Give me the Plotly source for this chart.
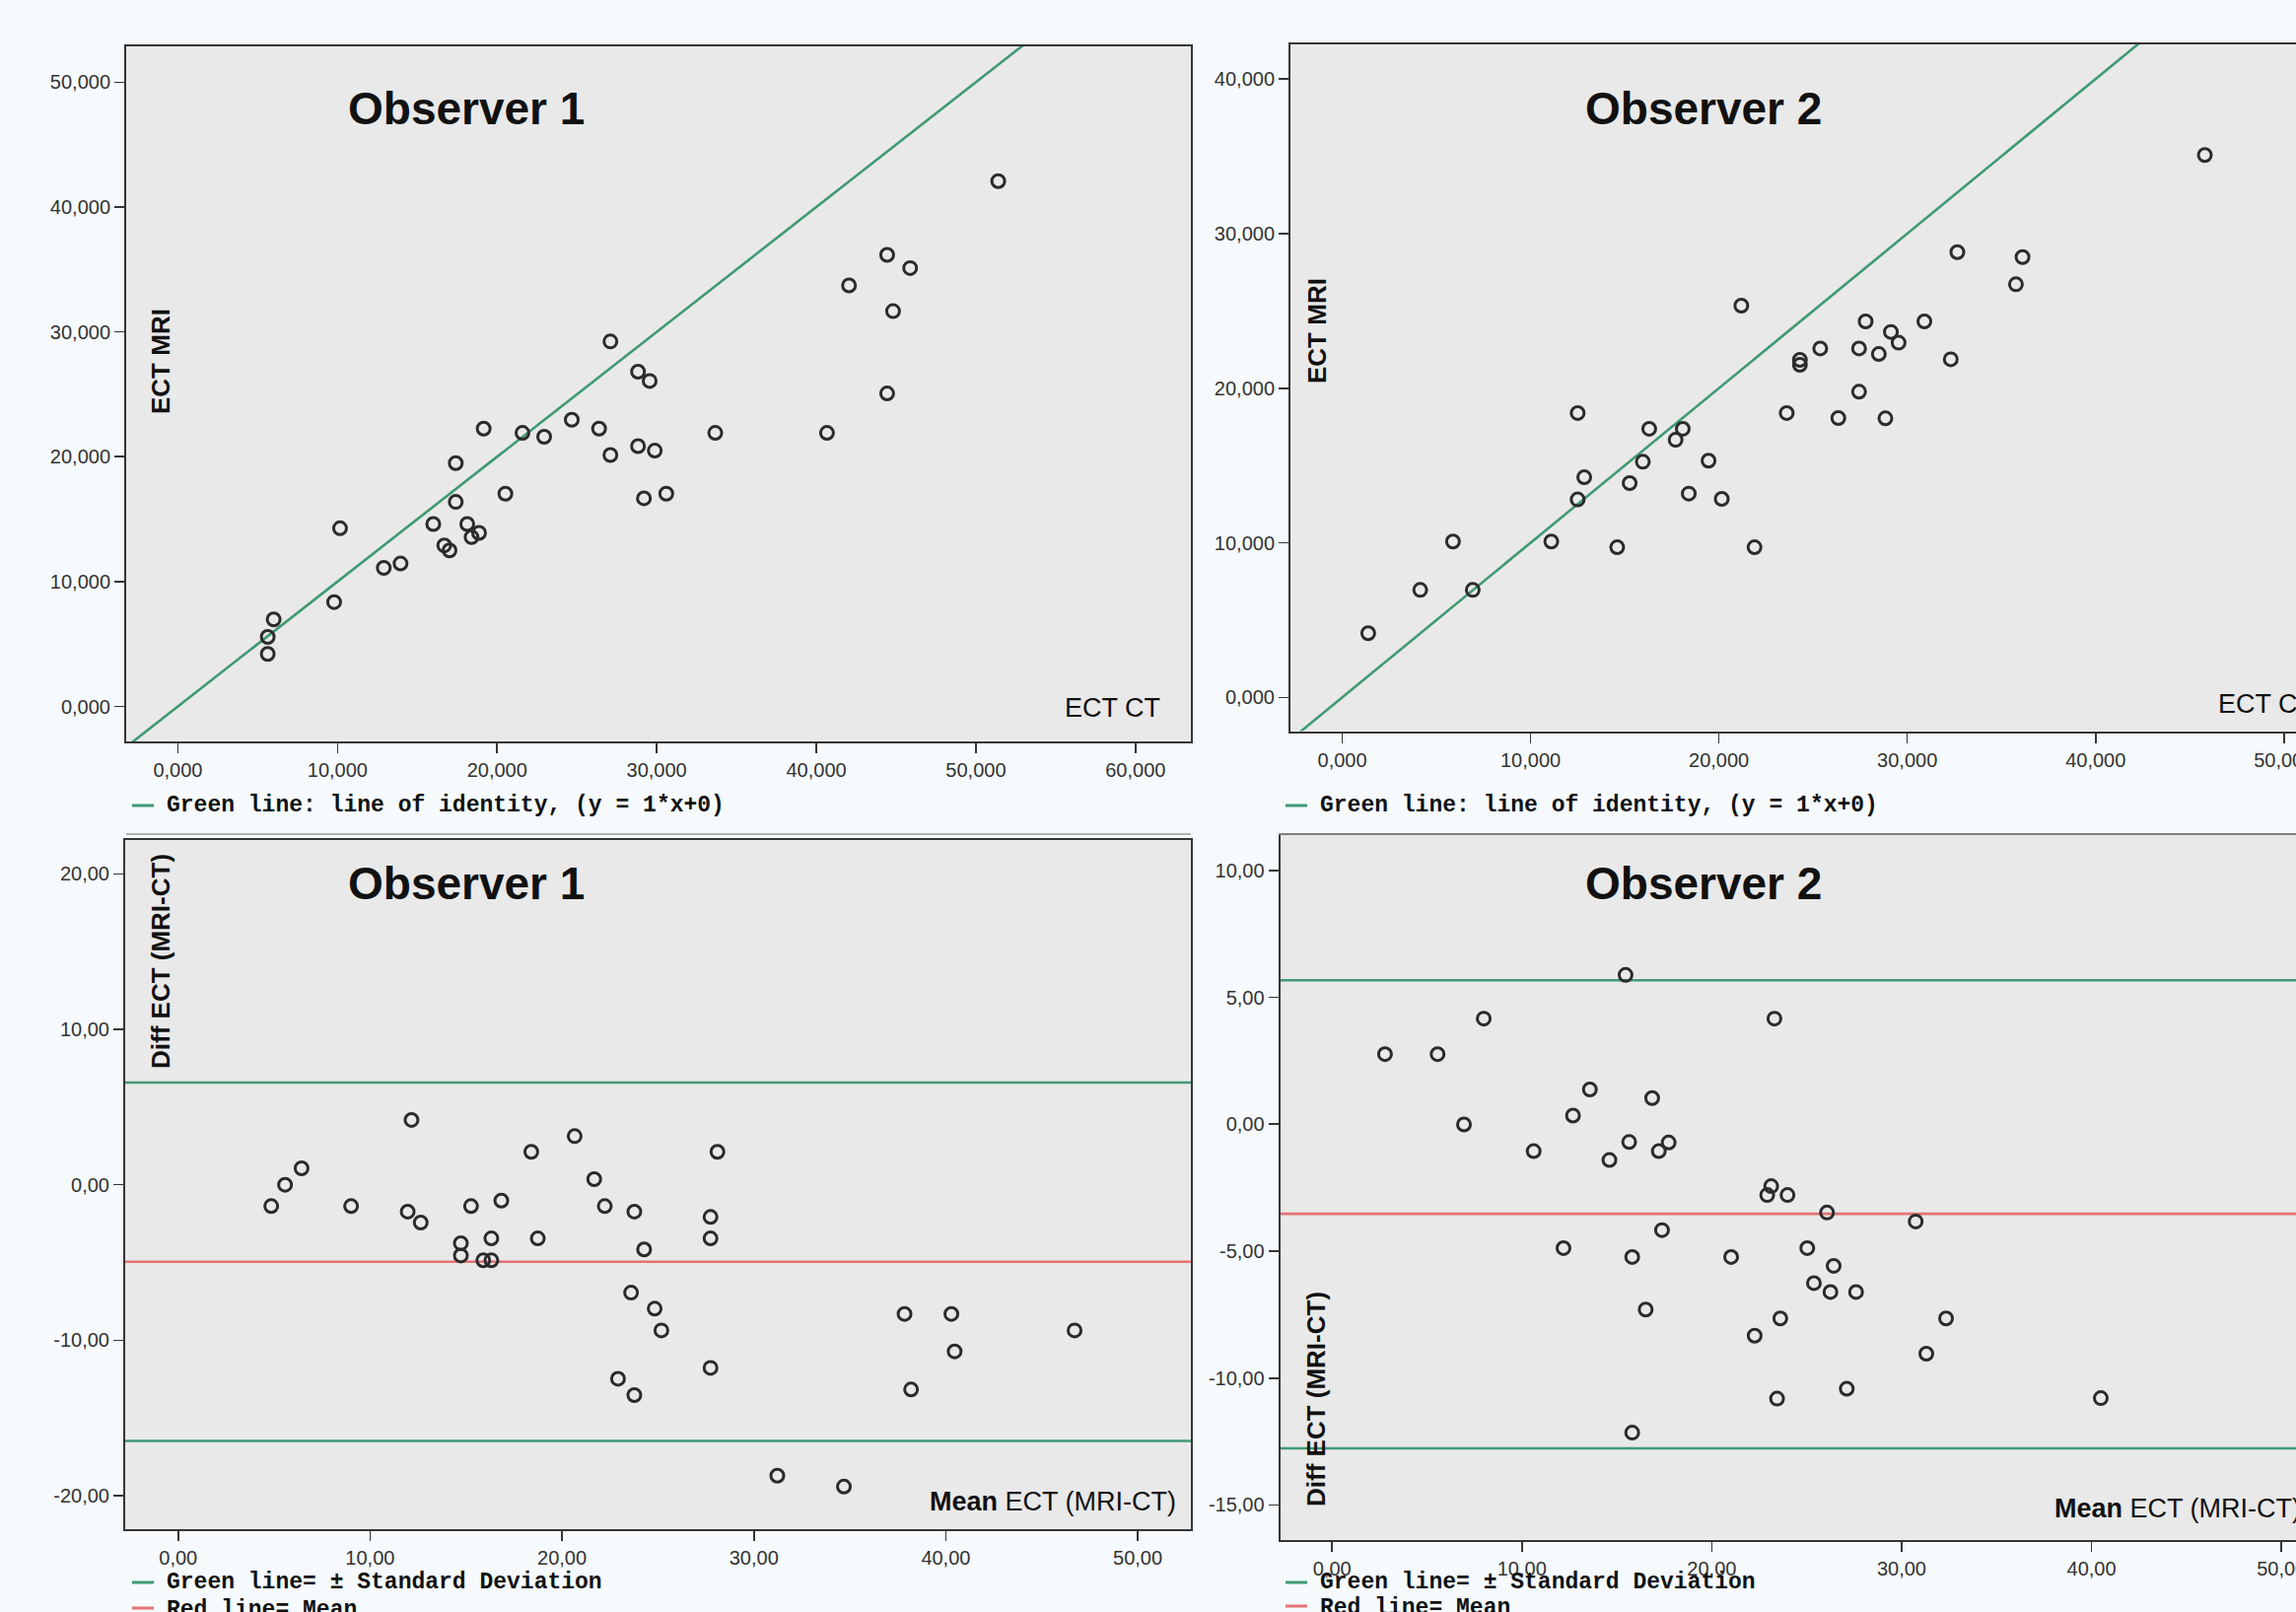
import plotly.graph_objects as go

W, H = 2329, 1635

# ---------------- data ----------------
OBS1_CT = [5.63, 5.63, 6.0, 9.79, 10.16, 12.9, 13.95, 16.0, 16.69, 17.02, 17.41, 17.41, 18.13, 18.4, 18.87,
           19.16, 20.52, 21.59, 22.95, 24.68, 26.39, 27.1, 27.1, 28.83, 29.56, 28.83, 29.88, 29.2, 30.6, 33.67,
           40.67, 44.44, 42.05, 44.44, 45.88, 44.81, 51.4]
OBS1_MRI = [4.21, 5.57, 6.97, 8.36, 14.27, 11.1, 11.45, 14.61, 12.9, 12.5, 16.38, 19.49, 14.61, 13.56, 13.9,
            22.25, 17.04, 21.91, 21.6, 22.96, 22.25, 29.23, 20.14, 26.81, 26.07, 20.85, 20.49, 16.67, 17.04, 21.91,
            21.91, 25.07, 33.72, 36.17, 35.11, 31.66, 42.07]

OBS2_CT = [1.38, 4.14, 6.93, 5.88, 11.1, 14.6, 12.5, 12.85, 12.5, 15.26, 15.96, 16.3, 17.7, 18.08, 18.4,
           19.45, 20.15, 21.19, 21.89, 23.6, 24.3, 24.3, 25.38, 26.34, 27.44, 27.79, 28.49, 29.13, 29.54, 27.44,
           28.84, 30.91, 32.31, 32.66, 36.12, 35.77, 45.8]
OBS2_MRI = [4.15, 6.95, 6.95, 10.08, 10.08, 9.71, 12.8, 14.24, 18.39, 13.86, 15.24, 17.37, 16.66, 17.37, 13.18,
            15.31, 12.84, 25.34, 9.71, 18.39, 21.83, 21.51, 22.57, 18.07, 22.57, 24.32, 22.21, 23.64, 22.94, 19.77,
            18.05, 24.32, 21.87, 28.8, 28.48, 26.72, 35.08]

OBS1_MEAN = [4.85, 5.57, 6.43, 9.01, 12.16, 11.96, 12.64, 14.73, 14.73, 15.26, 15.9, 16.32, 16.32, 16.84, 18.4,
             18.74, 20.66, 21.68, 22.23, 23.77, 24.28, 23.6, 24.83, 25.18, 22.92, 23.77, 28.1, 27.74, 27.74, 27.74,
             37.85, 40.29, 40.46, 38.19, 46.71, 31.22, 34.69]
OBS1_DIFF = [-1.37, 0.0, 1.06, -1.37, 4.17, -1.73, -2.43, -3.76, -4.55, -1.37, -4.86, -4.86, -3.45, -1.02, 2.12,
             -3.45, 3.13, 0.36, -1.37, -1.73, -4.16, -6.94, -7.97, -9.37, -12.48, -13.53, 2.12, -2.07, -3.45, -11.78,
             -8.31, -8.31, -10.72, -13.17, -9.37, -18.72, -19.42]

OBS2_MEAN = [2.79, 5.56, 7.99, 15.46, 23.3, 6.95, 10.62, 13.58, 12.69, 15.65, 14.61, 16.86, 17.73, 17.21, 23.13,
             22.92, 23.99, 26.07, 17.38, 12.19, 15.81, 21.02, 25.03, 26.42, 25.38, 26.25, 27.6, 16.52, 23.61, 22.26,
             23.44, 27.11, 15.81, 30.74, 32.34, 31.3, 40.49]
OBS2_DIFF = [2.76, 2.76, 4.16, 5.88, 4.16, -0.01, -1.06, 1.37, 0.34, -0.7, -1.41, 1.03, -0.72, -1.06, -2.44,
             -2.79, -2.79, -3.48, -4.17, -4.88, -5.23, -5.23, -4.88, -5.58, -6.26, -6.61, -6.61, -7.3, -7.65, -8.33,
             -10.81, -10.42, -12.15, -3.83, -7.65, -9.04, -10.79]

IDENTITY_SPAN = [-10, 80]

OBS1_BIAS, OBS1_SD_UP, OBS1_SD_LO = -4.95, 6.58, -16.48
OBS2_BIAS, OBS2_SD_UP, OBS2_SD_LO = -3.53, 5.67, -12.77

TL_XTICKS = [0, 10, 20, 30, 40, 50, 60]
TL_XTEXT = ["0,000", "10,000", "20,000", "30,000", "40,000", "50,000", "60,000"]
TL_YTICKS = [0, 10, 20, 30, 40, 50]
TL_YTEXT = ["0,000", "10,000", "20,000", "30,000", "40,000", "50,000"]
TR_XTICKS = [0, 10, 20, 30, 40, 50]
TR_XTEXT = ["0,000", "10,000", "20,000", "30,000", "40,000", "50,000"]
TR_YTICKS = [0, 10, 20, 30, 40]
TR_YTEXT = ["0,000", "10,000", "20,000", "30,000", "40,000"]
BL_XTICKS = [0, 10, 20, 30, 40, 50]
BL_XTEXT = ["0,00", "10,00", "20,00", "30,00", "40,00", "50,00"]
BL_YTICKS = [-20, -10, 0, 10, 20]
BL_YTEXT = ["-20,00", "-10,00", "0,00", "10,00", "20,00"]
BR_XTICKS = [0, 10, 20, 30, 40, 50]
BR_XTEXT = ["0,00", "10,00", "20,00", "30,00", "40,00", "50,00"]
BR_YTICKS = [-15, -10, -5, 0, 5, 10]
BR_YTEXT = ["-15,00", "-10,00", "-5,00", "0,00", "5,00", "10,00"]

# ---------------- styling ----------------
BG = "#f6fafc"
PLOT_BG = "#e9e9e9"
AX = "#353535"
GREEN = "#3f9a72"
RED = "#e57373"
MARK = "#2b2b2b"
TICKFONT = dict(family="Liberation Sans, Arial, sans-serif", size=20, color="#333333")
SANS = "Liberation Sans, Arial, sans-serif"
MONO = "Liberation Mono, Courier New, monospace"


def px(x):
    return x / W


def py(y):
    return 1 - y / H


fig = go.Figure()

marker = dict(symbol="circle-open", size=13, color=MARK, line=dict(width=3, color=MARK))

# identity lines
fig.add_trace(go.Scatter(x=IDENTITY_SPAN, y=IDENTITY_SPAN, mode="lines", line=dict(color=GREEN, width=2.6),
                         xaxis="x", yaxis="y", hoverinfo="skip"))
fig.add_trace(go.Scatter(x=IDENTITY_SPAN, y=IDENTITY_SPAN, mode="lines", line=dict(color=GREEN, width=2.6),
                         xaxis="x2", yaxis="y2", hoverinfo="skip"))
# scatter points
fig.add_trace(go.Scatter(x=OBS1_CT, y=OBS1_MRI, mode="markers", marker=marker, xaxis="x", yaxis="y"))
fig.add_trace(go.Scatter(x=OBS2_CT, y=OBS2_MRI, mode="markers", marker=marker, xaxis="x2", yaxis="y2"))
fig.add_trace(go.Scatter(x=OBS1_MEAN, y=OBS1_DIFF, mode="markers", marker=marker, xaxis="x3", yaxis="y3"))
fig.add_trace(go.Scatter(x=OBS2_MEAN, y=OBS2_DIFF, mode="markers", marker=marker, xaxis="x4", yaxis="y4"))


def axis(domain, rng, tv, tt, anchor, mirror=True):
    return dict(domain=domain, range=rng, tickvals=tv, ticktext=tt, anchor=anchor,
                showline=True, linecolor=AX, linewidth=2, mirror=mirror,
                ticks="outside", ticklen=10, tickwidth=1.6, tickcolor=AX,
                showgrid=False, zeroline=False, tickfont=TICKFONT, fixedrange=True,
                ticklabeloverflow="allow", automargin=False)


fig.update_layout(
    xaxis=axis([px(128), px(1208)], [-3.24, 63.47], TL_XTICKS, TL_XTEXT, "y"),
    yaxis=axis([py(752), py(47)], [-2.8, 52.87], TL_YTICKS, TL_YTEXT, "x"),
    xaxis2=axis([px(1309), 1.0], [-2.75, 50.64], TR_XTICKS, TR_XTEXT, "y2"),
    yaxis2=axis([py(741.5), py(45)], [-2.18, 42.24], TR_YTICKS, TR_YTEXT, "x2", mirror=False),
    xaxis3=axis([px(127), px(1208)], [-2.76, 52.77], BL_XTICKS, BL_XTEXT, "y3"),
    yaxis3=axis([py(1551), py(851.6)], [-22.16, 22.21], BL_YTICKS, BL_YTEXT, "x3"),
    xaxis4=axis([px(1298.6), 1.0], [-2.73, 50.77], BR_XTICKS, BR_XTEXT, "y4"),
    yaxis4=axis([py(1561.5), py(847)], [-16.36, 11.39], BR_YTICKS, BR_YTEXT, "x4", mirror=False),
)

shapes = []
# Bland-Altman reference lines
for xr, yr, vals in [("x3 domain", "y3", (OBS1_SD_UP, OBS1_BIAS, OBS1_SD_LO)),
                     ("x4 domain", "y4", (OBS2_SD_UP, OBS2_BIAS, OBS2_SD_LO))]:
    for v, c in zip(vals, (GREEN, RED, GREEN)):
        shapes.append(dict(type="line", xref=xr, yref=yr, x0=0, x1=1, y0=v, y1=v,
                           line=dict(color=c, width=2.6), layer="below"))

# legend dashes under each panel
for x0, x1, y, c in [(134, 156, 817, GREEN), (1304, 1326, 817, GREEN),
                     (134, 156, 1605, GREEN), (134, 156, 1631, RED),
                     (1304, 1326, 1605, GREEN), (1304, 1326, 1629, RED)]:
    shapes.append(dict(type="line", xref="paper", yref="paper", x0=px(x0), x1=px(x1), y0=py(y), y1=py(y),
                       line=dict(color=c, width=3)))
# thin separator lines under the top legends
for x0, x1 in [(128, 1208), (1297, 2329)]:
    shapes.append(dict(type="line", xref="paper", yref="paper", x0=px(x0), x1=px(x1), y0=py(846), y1=py(846),
                       line=dict(color="#9a9a9a", width=1.5)))

ann = []


def text(t, x, y, size, xa="center", ya="middle", bold=False, angle=0, family=SANS, color="#111111"):
    ann.append(dict(text=f"<b>{t}</b>" if bold else t, x=px(x), y=py(y), xref="paper", yref="paper",
                    xanchor=xa, yanchor=ya, showarrow=False, textangle=angle,
                    font=dict(family=family, size=size, color=color)))


# titles
text("Observer 1", 473, 110, 46, bold=True)
text("Observer 2", 1728, 110, 46, bold=True)
text("Observer 1", 473, 896, 46, bold=True)
text("Observer 2", 1728, 896, 46, bold=True)
# y-axis titles (inside plots)
text("ECT MRI", 163, 367, 26, bold=True, angle=-90)
text("ECT MRI", 1336, 336, 26, bold=True, angle=-90)
text("Diff ECT (MRI-CT)", 163, 975, 26, bold=True, angle=-90)
text("Diff ECT (MRI-CT)", 1335, 1419, 26, bold=True, angle=-90)
# x-axis titles (inside plots)
text("ECT CT", 1179, 718, 27, xa="right")
text("ECT CT", 2248, 714, 27, xa="left")
text("<b>Mean</b> ECT (MRI-CT)", 1195, 1523, 27, xa="right")
text("<b>Mean</b> ECT (MRI-CT)", 2082, 1530, 27, xa="left")
# legends
text("Green line: line of identity, (y = 1*x+0)", 167, 817, 23, xa="left", bold=True, family=MONO)
text("Green line: line of identity, (y = 1*x+0)", 1337, 817, 23, xa="left", bold=True, family=MONO)
text("Green line= ± Standard Deviation", 167, 1605, 23, xa="left", bold=True, family=MONO)
text("Red line= Mean", 167, 1633, 23, xa="left", bold=True, family=MONO)
text("Green line= ± Standard Deviation", 1337, 1605, 23, xa="left", bold=True, family=MONO)
text("Red line= Mean", 1337, 1631, 23, xa="left", bold=True, family=MONO)

fig.update_layout(
    width=W, height=H, autosize=False, margin=dict(l=0, r=0, t=0, b=0, autoexpand=False),
    paper_bgcolor=BG, plot_bgcolor=PLOT_BG, showlegend=False,
    shapes=shapes, annotations=ann,
)

fig.write_html("out.html",
               config={"responsive": False, "displayModeBar": False, "staticPlot": True},
               post_script="document.body.style.margin='0px';document.body.style.overflow='hidden';")
